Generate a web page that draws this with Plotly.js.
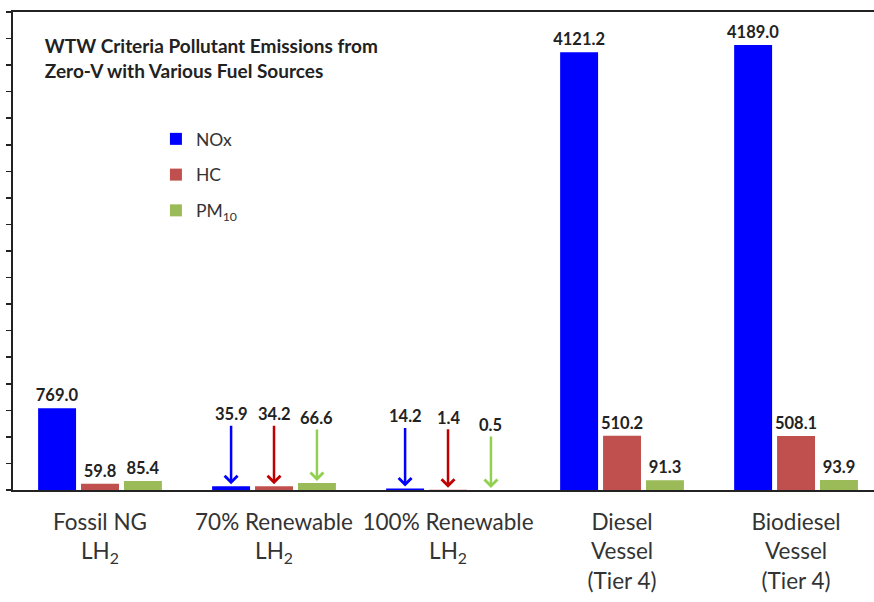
<!DOCTYPE html>
<html>
<head>
<meta charset="utf-8">
<script src="https://cdn.plot.ly/plotly-3.0.1.min.js"></script>
<style>html,body{margin:0;padding:0;background:#fff;}#chart{width:874px;height:602px;}</style>
</head>
<body>
<div id="chart"></div>
<script>
const categories = [
  "Fossil NG<br>LH<sub>2</sub>",
  "70% Renewable<br>LH<sub>2</sub>",
  "100% Renewable<br>LH<sub>2</sub>",
  "Diesel<br>Vessel<br>(Tier 4)",
  "Biodiesel<br>Vessel<br>(Tier 4)"
];
const seriesNames = ["NOx", "HC", "PM<sub>10</sub>"];
const noxValues = [769.0, 35.9, 14.2, 4121.2, 4189.0];
const hcValues = [59.8, 34.2, 1.4, 510.2, 508.1];
const pmValues = [85.4, 66.6, 0.5, 91.3, 93.9];
const arrowCategories = [1, 2];   // categories whose values are shown with arrows
const yTickStep = 250;
const yMax = 4500;

const barColors = ["#0000ff", "#c0504d", "#9bbb59"];
const arrowColors = ["#0000ff", "#c00000", "#92d050"];
const arrowLift = [-72, -72, -65];
const bargap = 0.26, bargroupgap = 0.116;
const slot = (1 - bargap) / 3;

const allSeries = [noxValues, hcValues, pmValues];
const labelFont = {family: "Lato, 'Open Sans', sans-serif", size: 16.5, color: "#222"};

const traces = allSeries.map((vals, j) => ({
  type: "bar",
  name: seriesNames[j],
  x: categories,
  y: vals,
  marker: {color: barColors[j]},
  text: vals.map(v => "<b>" + v.toFixed(1) + "</b>"),
  textposition: vals.map((v, i) => arrowCategories.includes(i) ? "none" : "outside"),
  constraintext: "none",
  textfont: labelFont,
  cliponaxis: false,
  legendgroup: "g" + j,
  hoverinfo: "none"
}));

const annotations = [];
arrowCategories.forEach(i => {
  allSeries.forEach((vals, j) => {
    annotations.push({
      x: i + (j - 1) * slot,
      y: vals[i],
      xref: "x", yref: "y",
      text: "<b>" + vals[i].toFixed(1) + "</b>",
      font: labelFont,
      showarrow: true,
      arrowhead: 4,
      arrowsize: 1,
      arrowwidth: 2.5,
      arrowcolor: arrowColors[j],
      ax: 0,
      ay: arrowLift[j],
      standoff: 2
    });
  });
});

const layout = {
  width: 874, height: 602,
  margin: {l: 13, r: 0, t: 12, b: 112},
  paper_bgcolor: "#fff", plot_bgcolor: "#fff",
  barmode: "group",
  bargap: bargap, bargroupgap: bargroupgap,
  showlegend: true,
  title: {
    text: "<b>WTW Criteria Pollutant Emissions from<br>Zero-V with Various Fuel Sources</b>",
    font: {family: "Lato, 'Open Sans', sans-serif", size: 19, color: "#222"},
    xref: "paper", yref: "paper",
    x: 0.037, xanchor: "left",
    y: 0.914, yanchor: "top"
  },
  legend: {
    x: 0.166, y: 0.772, xanchor: "left", yanchor: "top",
    bgcolor: "rgba(0,0,0,0)",
    font: {family: "Lato, 'Open Sans', sans-serif", size: 17.5, color: "#333"},
    tracegroupgap: 10,
    itemclick: false
  },
  xaxis: {
    type: "category",
    range: [-0.5, 4.448],
    showline: true, linecolor: "#222", linewidth: 2,
    mirror: true,
    ticks: "",
    showgrid: false, zeroline: false,
    tickfont: {family: "Lato, 'Open Sans', sans-serif", size: 22.5, color: "#333"},
    ticklabelstandoff: 11
  },
  yaxis: {
    range: [0, yMax],
    dtick: yTickStep,
    tick0: 0,
    showline: true, linecolor: "#222", linewidth: 2,
    ticks: "outside", ticklen: 5, tickwidth: 1.5, tickcolor: "#222",
    showticklabels: false,
    showgrid: false, zeroline: false
  },
  annotations: annotations
};

Plotly.newPlot("chart", traces, layout, {displayModeBar: false, staticPlot: true});
</script>
</body>
</html>
